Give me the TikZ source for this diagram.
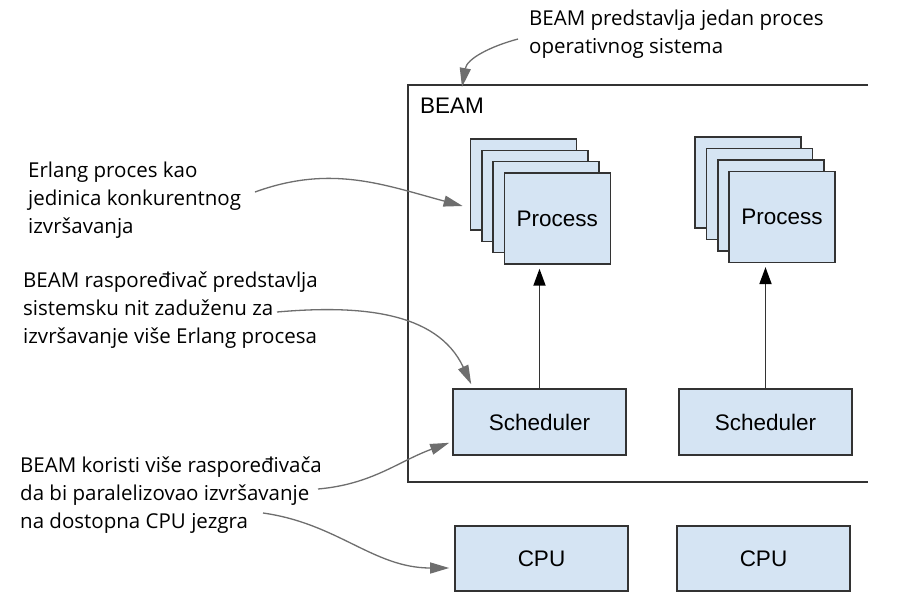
\documentclass[tikz,border=0pt]{standalone}
\usepackage{fontspec}
\setmainfont{Open Sans}
\newfontfamily\boxfont{Liberation Sans}
\usetikzlibrary{arrows.meta,calc}
\definecolor{boxfill}{HTML}{D5E4F3}
\definecolor{boxline}{HTML}{333333}
\definecolor{annline}{HTML}{6E6E6E}
\begin{document}
\begin{tikzpicture}[x=1pt,y=1pt,
  procbox/.style={draw=boxline, fill=boxfill, line width=1.6pt, minimum width=106pt, minimum height=91pt, inner sep=0pt, font=\boxfont\fontsize{22.5}{27}\selectfont},
  unitbox/.style={draw=boxline, fill=boxfill, line width=1.6pt, minimum width=173pt, minimum height=66pt, inner sep=0pt, font=\boxfont\fontsize{22.5}{27}\selectfont},
  anntext/.style={anchor=north west, inner sep=0pt, align=left, font=\fontsize{20.5}{28}\selectfont, text=black},
  annarrow/.style={draw=annline, line width=1.3pt, -{Triangle[length=19pt,width=11pt]}},
  flowarrow/.style={draw=boxline, line width=1.8pt, shorten >=4pt, -{Triangle[length=17pt,width=12pt,color=black]}}
]
\useasboundingbox (0,0) rectangle (898,-606);
\fill[white] (0,0) rectangle (898,-606);

% BEAM container (open on the right)
\coordinate (bTR) at (868,-85);
\coordinate (bTL) at (408,-85);
\coordinate (bBL) at (408,-482);
\coordinate (bBR) at (868,-482);
\draw[draw=boxline, line width=1.6pt] (bTR) -- (bTL) -- (bBL) -- (bBR);
\node[anchor=west, inner sep=0pt, font=\boxfont\fontsize{22.5}{27}\selectfont] (beamlbl) at (420,-106) {BEAM};

% process stacks
\node[procbox] (pa1) at (523.4,-184.5) {};
\node[procbox] (pa2) at (534.7,-195.8) {};
\node[procbox] (pa3) at (546.0,-207.1) {};
\node[procbox] (pa4) at (557.3,-218.4) {Process};

\node[procbox] (pb1) at (748.2,-182.6) {};
\node[procbox] (pb2) at (759.5,-194.0) {};
\node[procbox] (pb3) at (770.8,-205.4) {};
\node[procbox] (pb4) at (782.1,-216.8) {Process};

% schedulers and CPUs
\node[unitbox] (sa) at (539.5,-422) {Scheduler};
\node[unitbox] (sb) at (765.5,-422) {Scheduler};
\node[unitbox, minimum height=65pt] (ca) at (541.5,-558.5) {CPU};
\node[unitbox, minimum height=65pt] (cb) at (763.5,-558.5) {CPU};

\draw[flowarrow] (sa.north) -- (sa.north |- pa4.south);
\draw[flowarrow] (sb.north) -- (sb.north |- pb4.south);

% annotations
\node[anntext] (t1) at (529,-9.4) {BEAM predstavlja jedan proces\\operativnog sistema};
\node[anntext] (t2) at (28,-161.4) {Erlang proces kao\\jedinica konkurentnog\\izvršavanja};
\node[anntext] (t3) at (23,-271.4) {BEAM raspoređivač predstavlja\\sistemsku nit zaduženu za\\izvršavanje više Erlang procesa};
\node[anntext] (t4) at (20,-456.4) {BEAM koristi više raspoređivača\\da bi paralelizovao izvršavanje\\na dostopna CPU jezgra};

\coordinate (a1s) at (518,-39);
\coordinate (a1e) at (462,-87);
\coordinate (a2s) at (255,-192);
\coordinate (a2e) at ($(pa1.west)+(-7,-21.5)$);
\coordinate (a3s) at (277,-312);
\coordinate (a3e) at ($(sa.north west)+(19,4)$);
\coordinate (a4s) at (318,-489);
\coordinate (a4e) at ($(sa.south west)+(-3,13)$);
\coordinate (a5s) at (263,-513);
\coordinate (a5e) at ($(ca.west)+(-5,-9.5)$);

\draw[annarrow] (a1s) to[out=195,in=80] (a1e);
\draw[annarrow] (a2s) to[out=20,in=165] (a2e);
\draw[annarrow] (a3s) to[out=5,in=115] (a3e);
\draw[annarrow] (a4s) to[out=5,in=200] (a4e);
\draw[annarrow] (a5s) to[out=-8,in=180] (a5e);
\end{tikzpicture}
\end{document}
